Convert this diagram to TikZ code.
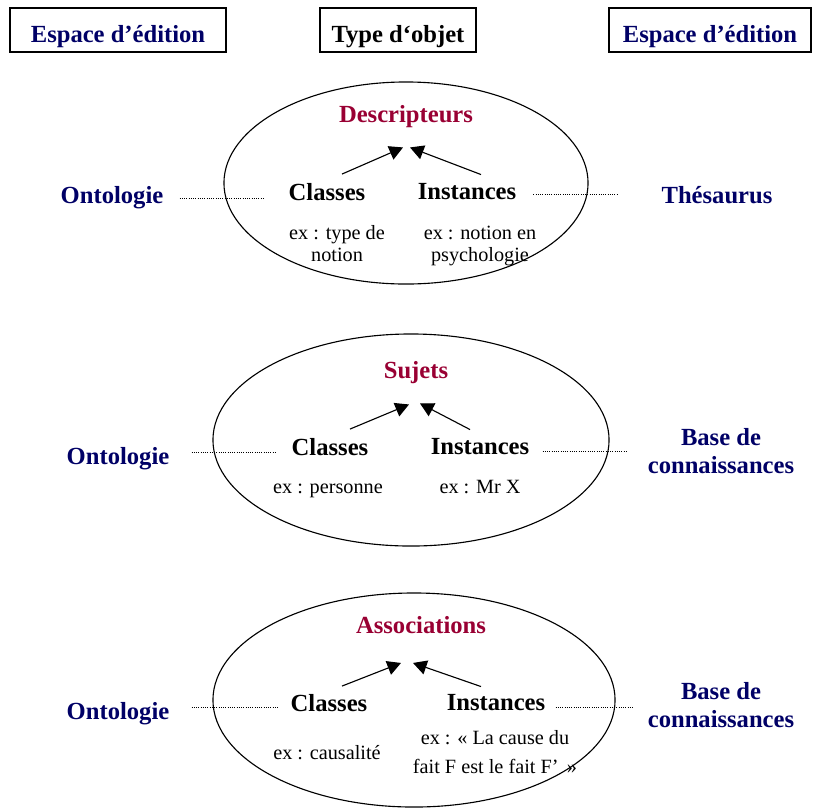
\documentclass[tikz,border=0pt]{standalone}
\usepackage{fontspec}
\setmainfont{Liberation Serif}
\usetikzlibrary{arrows.meta,shapes.geometric,calc}
\definecolor{navy}{RGB}{0,0,102}
\definecolor{wine}{RGB}{153,0,51}

\begin{document}
\begin{tikzpicture}[
    x=0.025cm, y=-0.025cm,
    >={Triangle[length=0.34cm,width=0.36cm]},
    headbox/.style={
        draw,
        line width=1pt,
        minimum height=1.1cm,
        inner sep=0pt,
        text height=18pt,
        text depth=0.6pt,
        font=\fontsize{17.5}{21}\selectfont\bfseries
    },
    space/.style={
        text=navy,
        align=center,
        inner sep=0pt,
        font=\fontsize{17.5}{20.5}\selectfont\bfseries
    },
    kind/.style={
        text=wine,
        inner sep=0pt,
        font=\fontsize{17.5}{21}\selectfont\bfseries
    },
    part/.style={
        inner sep=0pt,
        font=\fontsize{17.5}{21}\selectfont\bfseries
    },
    example/.style={
        align=center,
        inner sep=0pt,
        font=\fontsize{14.4}{15.6}\selectfont
    },
    group/.style={
        draw,
        ellipse,
        line width=0.8pt,
        inner sep=0pt
    },
    link/.style={
        densely dotted,
        line width=0.6pt
    },
    isa/.style={
        ->,
        line width=0.8pt
    }
]
\useasboundingbox (0,0) rectangle (813,811);

% Column headers
\node[headbox, text=navy, minimum width=5.4cm] (edL) at (118,30) {Espace d'édition};
\node[headbox, minimum width=3.9cm] (type) at (398,30) {Type d`objet};
\node[headbox, text=navy, minimum width=5.05cm] (edR) at (710,30) {Espace d'édition};

% Descripteurs
\node[group, minimum width=9.1cm, minimum height=5.05cm] (grp1) at (406,183) {};
\node[kind] (desc) at (406,117) {Descripteurs};
\node[part] (cls1) at (327,192) {Classes};
\node[part] (ins1) at (467,192) {Instances};
\node[example] (ex1a) at (337,244) {ex : type de\\notion};
\node[example] (ex1b) at (480,246) {ex : notion en\\psychologie};
\node[space] (ont1) at (112,198) {Ontologie};
\node[space] (thes) at (717,195) {Thésaurus};

% Sujets
\node[group, minimum width=9.9cm, minimum height=5.3cm] (grp2) at (411,440) {};
\node[kind] (suj) at (416,373) {Sujets};
\node[part] (cls2) at (330,447) {Classes};
\node[part] (ins2) at (480,447) {Instances};
\node[example, anchor=base] (ex2a) at (328,493) {ex : personne};
\node[example, anchor=base] (ex2b) at (480,493) {ex : Mr X};
\node[space] (ont2) at (118,459) {Ontologie};
\node[space] (base2) at (721,451) {Base de\\connaissances};

% Associations
\node[group, minimum width=10.05cm, minimum height=5.35cm] (grp3) at (414,700) {};
\node[kind] (asso) at (421,625) {Associations};
\node[part] (cls3) at (329,703) {Classes};
\node[part] (ins3) at (496,703) {Instances};
\node[example] (ex3a) at (327,753) {ex : causalité};
\node[example, font=\fontsize{14.4}{20}\selectfont] (ex3b) at (495,752) {ex : « La cause du\\fait F est le fait F'\,~»};
\node[space] (ont3) at (118,714) {Ontologie};
\node[space] (base3) at (721,705) {Base de\\connaissances};

% Generalisation arrows
\draw[isa] ($(cls1.north)+(15,-9)$) -- ($(desc.south)+(-3,19)$);
\draw[isa] ($(ins1.north)+(14,-9)$) -- ($(desc.south)+(4,19)$);
\draw[isa] ($(cls2.north)+(20,-9)$) -- ($(suj.south)+(-7,20)$);
\draw[isa] ($(ins2.north)+(-10,-9)$) -- ($(suj.south)+(4,19)$);
\draw[isa] ($(cls3.north)+(13,-8)$) -- ($(asso.south)+(-20,29)$);
\draw[isa] ($(ins3.north)+(-15,-8)$) -- ($(asso.south)+(-8,29)$);

% Dotted links to the edition spaces
\draw[link, shorten <=0.4cm, shorten >=0.6cm] (ont1.east) -- (ont1.east -| cls1.west);
\draw[link, shorten <=0.42cm, shorten >=1.07cm] ([yshift=-0.05cm]ins1.east) -- ([yshift=-0.05cm]ins1.east -| thes.west);
\draw[link, shorten <=0.55cm, shorten >=0.38cm] ([yshift=0.17cm]ont2.east) -- ([yshift=0.17cm]ont2.east -| cls2.west);
\draw[link, shorten <=0.33cm, shorten >=0.52cm] ([yshift=-0.1cm]ins2.east) -- ([yshift=-0.1cm]ins2.east -| base2.west);
\draw[link, shorten <=0.55cm, shorten >=0.33cm] ([yshift=0.17cm]ont3.east) -- ([yshift=0.17cm]ont3.east -| cls3.west);
\draw[link, shorten <=0.25cm, shorten >=0.38cm] ([yshift=-0.1cm]ins3.east) -- ([yshift=-0.1cm]ins3.east -| base3.west);

\end{tikzpicture}
\end{document}
